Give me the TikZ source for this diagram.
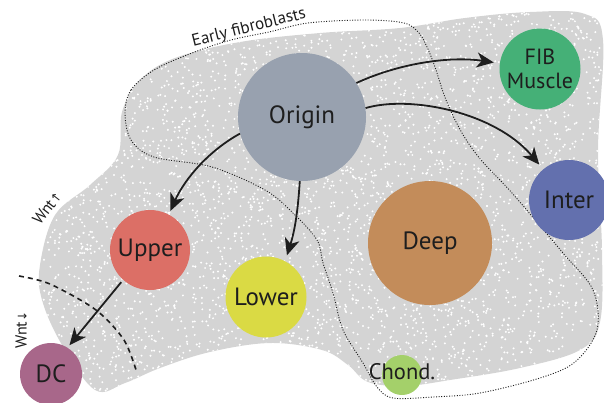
\documentclass[tikz,border=0pt]{standalone}
\usepackage{fontspec}
\setmainfont{PT Sans}
\newfontfamily\symfont{DejaVu Sans}
\usetikzlibrary{arrows.meta}
\definecolor{cloudgray}{HTML}{D4D4D4}
\definecolor{origincol}{HTML}{98A1AF}
\definecolor{fibcol}{HTML}{45B077}
\definecolor{intercol}{HTML}{6370AE}
\definecolor{deepcol}{HTML}{C38C5A}
\definecolor{uppercol}{HTML}{DC6F66}
\definecolor{lowercol}{HTML}{DADA44}
\definecolor{dccol}{HTML}{A8678A}
\definecolor{chondcol}{HTML}{A4D06A}
\definecolor{inkcol}{HTML}{1E1E1E}
\tikzset{
  bubble/.style={circle, inner sep=0pt, text=inkcol, font=\fontsize{25}{27}\selectfont},
  flowarrow/.style={line width=1.8pt, draw=inkcol, -{Stealth[length=17pt,width=15pt,inset=5pt]}, shorten >=6pt},
  regionline/.style={line width=0.9pt, dash pattern=on 1pt off 1.6pt, draw=inkcol},
  wntline/.style={line width=1.6pt, dash pattern=on 5pt off 4pt, draw=inkcol},
  smalllabel/.style={text=inkcol, inner sep=0pt}
}
\begin{document}
\begin{tikzpicture}[x=1pt,y=-1pt]
\useasboundingbox (0,0) rectangle (604,402);
% cloud of cells
\begin{scope}
\clip plot[smooth cycle, tension=0.6] coordinates {(40,265) (55,215) (90,185) (118,155) (122,112) (140,80) (175,58) (240,42) (320,33) (400,28) (465,18) (530,12) (585,14) (603,40) (598,150) (602,250) (600,322) (580,350) (520,368) (450,380) (405,386) (368,382) (348,365) (322,350) (270,343) (210,352) (160,368) (125,383) (95,390) (62,345) (42,300)};
\fill[cloudgray] (0,0) rectangle (604,402);
\pgfmathsetseed{7}
\foreach \i in {1,...,5000}{
  \pgfmathsetmacro\rx{604*rnd}
  \pgfmathsetmacro\ry{402*rnd}
  \fill[white] (\rx,\ry) circle[radius=1.1];
}
\end{scope}
% early fibroblasts region
\draw[regionline] plot[smooth cycle, tension=0.55] coordinates {(125,113) (131,90) (154,70) (192,53) (231,40) (269,32) (308,23) (365,20) (404,23) (419,33) (427,47) (435,67) (446,100) (462,133) (481,160) (512,193) (563,253) (593,290) (597,330) (575,362) (540,378) (480,393) (433,397) (393,398) (377,387) (363,363) (343,330) (333,293) (323,263) (317,240) (293,213) (265,190) (212,167) (154,157) (131,140)};
% Wnt boundary
\draw[wntline] plot[smooth] coordinates {(19,276) (50,284) (96,310) (124,340) (137,373)};
% nodes
\node[bubble, fill=origincol, minimum size=128pt] (origin) at (302,117) {Origin};
\node[bubble, fill=fibcol, minimum size=81pt, align=center, font=\fontsize{22}{24}\selectfont] (fib) at (540,69) {FIB\\Muscle};
\node[bubble, fill=intercol, minimum size=80pt] (inter) at (569,200) {Inter};
\node[bubble, fill=deepcol, minimum size=124pt] (deep) at (430,243) {Deep};
\node[bubble, fill=uppercol, minimum size=80pt] (upper) at (150,250) {Upper};
\node[bubble, fill=lowercol, minimum size=81pt] (lower) at (266,297) {Lower};
\node[bubble, fill=dccol, minimum size=62pt] (dc) at (51,374) {DC};
\node[bubble, fill=chondcol, minimum size=40pt] (chond) at (402,375) {};
\node[smalllabel, font=\fontsize{22.5}{24}\selectfont] (chondlabel) at (402,372) {Chond.};
% labels
\node[smalllabel, rotate=14, font=\fontsize{17}{19}\selectfont] (early) at (249,28) {Early fibroblasts};
\node[smalllabel, rotate=52, font=\fontsize{16}{18}\selectfont] (wntup) at (47,208) {Wnt{\symfont\fontsize{12}{13}\selectfont↑}};
\node[smalllabel, rotate=90, font=\fontsize{16}{18}\selectfont] (wntdown) at (21,330) {Wnt{\symfont\fontsize{12}{13}\selectfont↓}};
% arrows
\draw[flowarrow] (origin.32) .. controls (400,63) and (450,56) .. (fib.172);
\draw[flowarrow] (origin.8) .. controls (410,95) and (495,112) .. (inter.130);
\draw[flowarrow, shorten >=4pt] (origin.195) .. controls (210,150) and (185,178) .. (upper.62);
\draw[flowarrow] (origin.268) .. controls (298,210) and (295,230) .. (lower.62);
\draw[flowarrow, shorten >=3pt, shorten <=3pt] (upper.228) -- (dc.58);
\end{tikzpicture}
\end{document}
